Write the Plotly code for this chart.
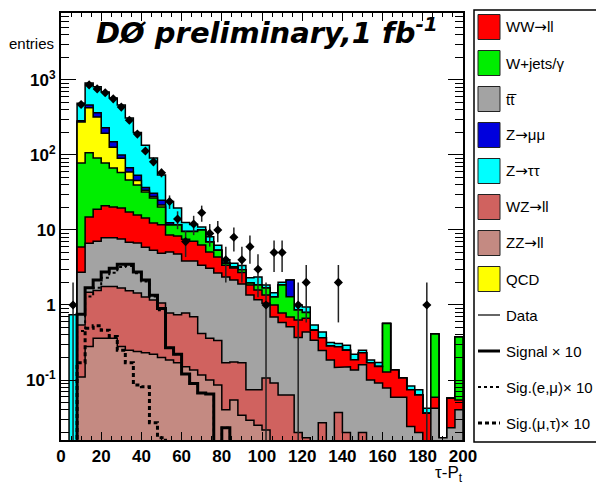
import numpy as np
import plotly.graph_objects as go

# ---------------- data (50 bins of 4 GeV, 0-200) ----------------
bin_edges = list(range(0, 204, 4))

zz = [0, 0, .11, .28, .36, .36, .36, .28, .25, .24, .23, .22, .2, .185, .17, .15, .136, .117, .1, .086,
      .04, .054, .034, .029, .025, .0215] + [0] * 24
wz = [0, 0, .43, 1.2, 1.2, 1.4, 1.4, 1.4, 1.3, 1.2, 1.05, .95, .86, .6, .57, .63, .56, .3, .26, .25,
      .13, .12, .136, .045, .049, .085, .091, .063, .063, .02, .017, 0, .027, 0, .037, .02, 0, .02] + [0] * 12
ttbar = [0, 0, 2.2, 5.2, 5.5, 6.1, 6.1, 5.9, 5.3, 5.25, 4.6, 4.2, 3.84, 4.3, 4.06, 3.07, 3.16, 2.98, 2.74, 2.33,
         2.19, 1.98, 1.73, 1.29, 1.1, .95, .6, .52, .45, .35, .42, .34, .22, .185, .11, .13, .136, .14, .1, .091,
         .078, .059, .059, .024, .02, .012, .042, .017, .023, .04]
ww = [0, 0, 3.2, 8.2, 11.9, 13.2, 12.4, 12, 10.5, 9.1, 8.6, 7, 6.8, 3.5, 3.5, 3.7, 3.2, 2.9, 2.0, 1.7,
      1.04, .95, .82, .49, .41, .3, .31, .2, .18, .26, .23, .12, .12, .1, .13, .1, .05, .07, .07, .06,
      .05, .077, .047, .05, .043, .024, .017, 0, .034, .014]
wjets = [0, 0, 72, 92, 72, 57, 47, 39, 29, 24, 17.5, 14.3, 8.5, 3.1, 3.4, 2.0, 2.5, 3.7, 1.8, 1.0,
         .2, .1, .23, .11, .27, .33, .28, 1.07, .59, .23, .13] + [0] * 9 + [.44, 0, 0, 0, 0, 0, .35, 0, 0, .32]
qcd = [0, 0, 197, 318, 229, 117, 60, 32, 13, 6, 2, 1.3, 1.3] + [0] * 37
zmumu = [0, 0, 10, 40, 45, 35, 23, 9, 8, 8, 3, 3, 3.5, .8] + [0] * 14 + [.87] + [0] * 21
ztautau = [0, .74, 205, 445, 445, 460, 425, 365, 243, 146, 98, 60, 29, 11.5, 7.9, 3.0, 2.3, 1.0, 1.2, .9,
           .4, .4, .4, .34, .51, .16, .17, .15, 0, .14, .14, .08, .07, .03, .03, .04, .035, .02, .015, .02,
           0, 0, 0, .009, .011, .006, 0, 0, 0, 0]
data = [0, 1, 470, 860, 760, 675, 560, 435, 290, 190, 113, 81, 58, 24, 14, 7, 12, 17, 9, 10,
        4, 8, 4, 6, 3, 1, 5, 5, 0, 1, 2, 0, 0, 0, 2] + [0] * 10 + [1, 0, 0, 0, 0]
signal10 = [0, 0, .75, 1.7, 2.15, 2.75, 3.1, 3.5, 3.5, 2.75, 2.15, 1.35, .9, .27, .22, .12, .09, .067, .065, 0,
            .023] + [0] * 29
sig_emu10 = [0, 0, .45, 1.3, 1.7, 2.3, 2.7, 3.2, 3.3, 2.65, 2.05, 1.3, .85, .27, .22, .12, .09, .067, .065, 0,
             .023] + [0] * 29
sig_mutau10 = [0, 0, .17, .49, .53, .46, .38, .25, .17, .086, .081, .027, .017] + [0] * 37

ARW = '<span style="font-family:DejaVu Sans">→</span>'
# stack order bottom -> top
stack = [
    ("ZZ" + ARW + "ll", zz, "#c48a82"),
    ("WZ" + ARW + "ll", wz, "#d0625f"),
    ("tt\u0305", ttbar, "#a3a3a3"),
    ("WW" + ARW + "ll", ww, "#ff0000"),
    ("W+jets/γ", wjets, "#00ee00"),
    ("QCD", qcd, "#ffff00"),
    ("Z" + ARW + "μμ", zmumu, "#0000dd"),
    ("Z" + ARW + "ττ", ztautau, "#00ffff"),
]

edges = np.array(bin_edges, dtype=float)
FLOOR = 1e-4


def step_xy(vals):
    v = np.array(vals, float)
    v = np.where(v > 0, v, FLOOR)
    xs, ys = [], []
    for i in range(len(v)):
        xs += [edges[i], edges[i + 1]]
        ys += [v[i], v[i]]
    return xs, ys


fig = go.Figure()

cum = np.cumsum(np.array([s[1] for s in stack], float), axis=0)
for k in range(len(stack) - 1, -1, -1):
    xs, ys = step_xy(cum[k])
    xs = [edges[0]] + xs + [edges[-1], edges[0]]
    ys = [FLOOR] + ys + [FLOOR, FLOOR]
    fig.add_trace(go.Scatter(x=xs, y=ys, mode="lines", fill="toself", fillcolor=stack[k][2],
                             line=dict(color="black", width=1.5), name=stack[k][0],
                             showlegend=False, hoverinfo="skip"))

for vals, dash, w in [(sig_emu10, "dot", 2), (sig_mutau10, "4px,3px", 3), (signal10, "solid", 3)]:
    xs, ys = step_xy(vals)
    fig.add_trace(go.Scatter(x=xs, y=ys, mode="lines", line=dict(color="black", width=w, dash=dash),
                             showlegend=False, hoverinfo="skip"))

d = np.array(data, float)
centers = (edges[:-1] + edges[1:]) / 2
m = d > 0
err_up = np.sqrt(d[m])
err_dn = np.where(d[m] <= 1, d[m] * 0.9999, np.sqrt(d[m]))
fig.add_trace(go.Scatter(x=centers[m], y=d[m], mode="markers",
                         marker=dict(symbol="diamond", size=7, color="black"),
                         error_y=dict(type="data", symmetric=False, array=err_up, arrayminus=err_dn,
                                      color="#222222", thickness=1.5, width=0),
                         showlegend=False))

# ---------------- layout ----------------
L, R, T, B = 61, 463, 13, 440
W, H = 596, 490


def xp(px):
    return (px - L) / (R - L)


def yp(py):
    return (B - py) / (B - T)


minor_y = [m_ * 10.0 ** e for e in range(-2, 4) for m_ in range(2, 10)]

fig.update_layout(
    width=W, height=H,
    margin=dict(l=L, r=W - R, t=T, b=H - B),
    paper_bgcolor="white", plot_bgcolor="white",
    showlegend=False,
    font=dict(family="Liberation Sans, Arial, sans-serif", color="black"),
    xaxis=dict(range=[0, 200], tickvals=list(range(0, 201, 20)), ticks="inside", ticklen=8,
               tickwidth=1.2, tickcolor="black", showline=True, linewidth=2, linecolor="black",
               mirror="allticks", showgrid=False, zeroline=False,
               tickfont=dict(size=17, weight="bold"),
               minor=dict(dtick=5, ticks="inside", ticklen=4, tickcolor="black", showgrid=False)),
    yaxis=dict(type="log", range=[-1.8, 3.893], tickvals=[0.1, 1, 10, 100, 1000],
               ticktext=["10<sup>-1</sup>", "1", "10", "10<sup>2</sup>", "10<sup>3</sup>"],
               ticks="inside", ticklen=15, tickwidth=1.2, tickcolor="black", showline=True, linewidth=2,
               linecolor="black", mirror="allticks", showgrid=False, zeroline=False,
               tickfont=dict(size=17, weight="bold"),
               minor=dict(tickvals=minor_y, ticks="inside", ticklen=8, tickcolor="black", showgrid=False)),
)

shapes = []
ann = []
# legend frame
shapes.append(dict(type="rect", xref="paper", yref="paper", x0=xp(474), x1=xp(640), y0=yp(442), y1=yp(10),
                   line=dict(color="black", width=1.5), fillcolor="rgba(0,0,0,0)"))
legend_order = [3, 4, 2, 6, 7, 1, 0, 5]
for i, k in enumerate(legend_order):
    name, _, col = stack[k]
    cy = 27 + 36 * i
    shapes.append(dict(type="rect", xref="paper", yref="paper", x0=xp(478), x1=xp(500),
                       y0=yp(cy + 12.5), y1=yp(cy - 12.5), fillcolor=col,
                       line=dict(color="#222222", width=1)))
    ann.append(dict(x=xp(504), y=yp(cy), xref="paper", yref="paper", text=name, showarrow=False,
                    xanchor="left", yanchor="middle", font=dict(size=15)))
line_entries = [("Data", 1.2, "solid"), ("Signal × 10", 3, "solid"),
                ("Sig.(e,μ)× 10", 2, "dot"), ("Sig.(μ,τ)× 10", 3, "4px,3px")]
for j, (name, w, dash) in enumerate(line_entries):
    cy = 27 + 36 * (8 + j)
    shapes.append(dict(type="line", xref="paper", yref="paper", x0=xp(478), x1=xp(500), y0=yp(cy), y1=yp(cy),
                       line=dict(color="black", width=w, dash=dash)))
    ann.append(dict(x=xp(504), y=yp(cy), xref="paper", yref="paper", text=name, showarrow=False,
                    xanchor="left", yanchor="middle", font=dict(size=15)))

ann.append(dict(x=xp(267), y=yp(31), xref="paper", yref="paper",
                text="DØ preliminary,1 fb<sup>-1</sup>", showarrow=False, xanchor="center", yanchor="middle",
                font=dict(family="DejaVu Sans", size=29, weight="bold", style="italic")))
ann.append(dict(x=xp(31), y=yp(44), xref="paper", yref="paper", text="entries",
                showarrow=False, xanchor="center", yanchor="middle", font=dict(size=15)))
ann.append(dict(x=xp(465), y=yp(461), xref="paper", yref="paper", text="τ-P<sub>t</sub>",
                showarrow=False, xanchor="right", yanchor="top", font=dict(size=17)))

fig.update_layout(shapes=shapes, annotations=ann)
fig.write_html("out.html")
